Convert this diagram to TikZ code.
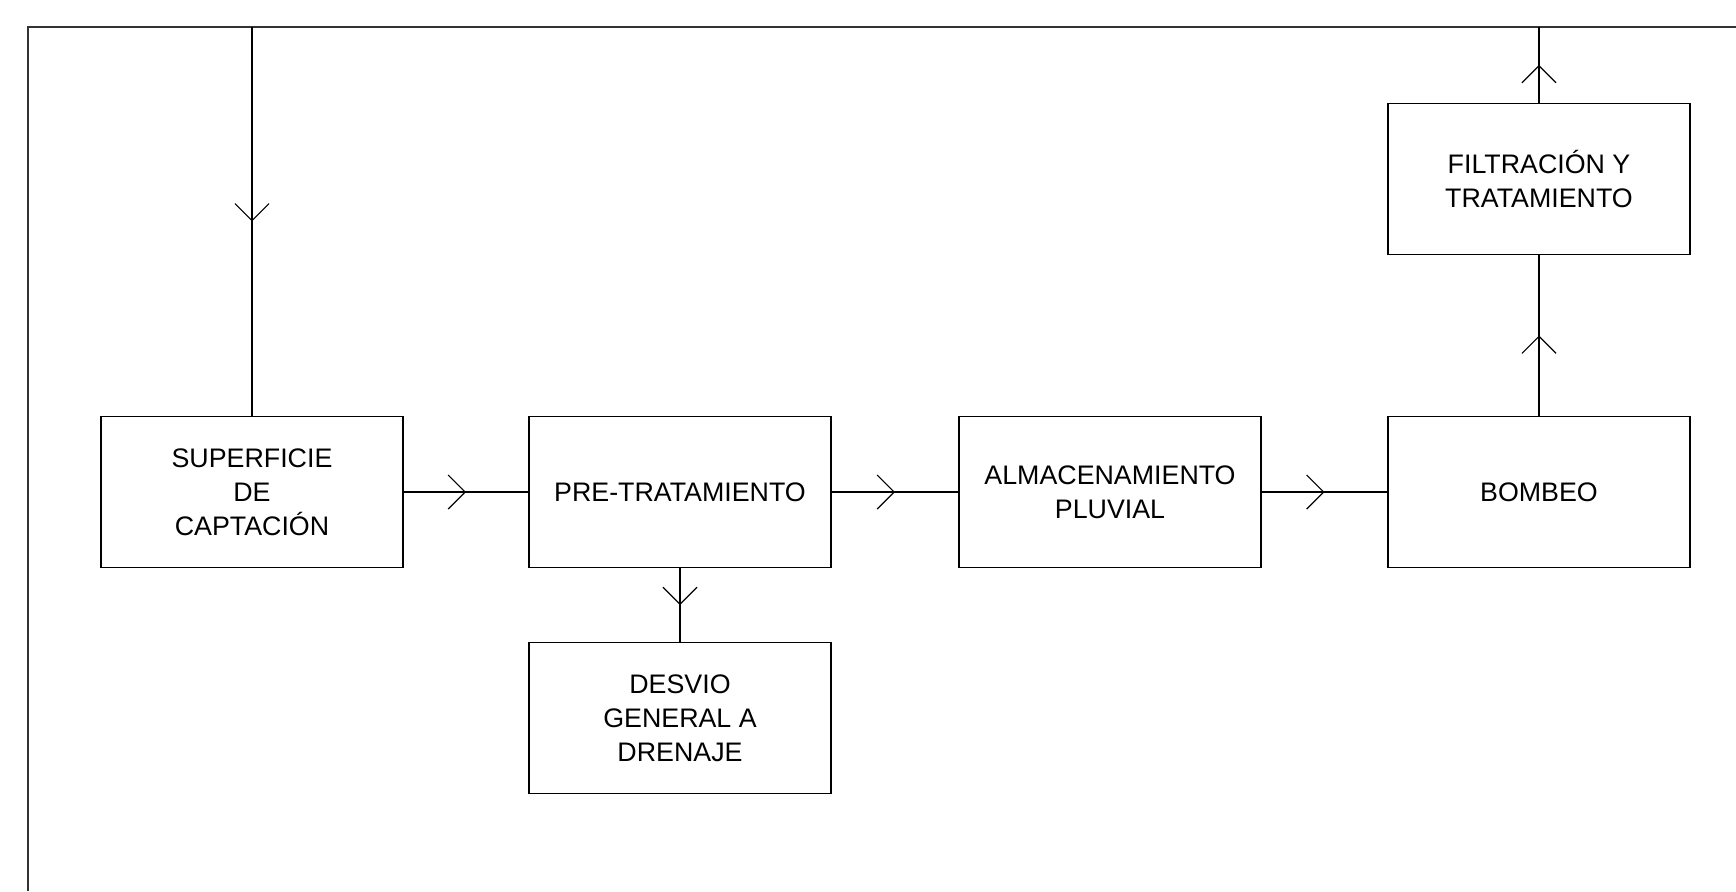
\documentclass[tikz,border=0pt]{standalone}
\usepackage{fontspec}
\setmainfont{Liberation Sans}
\usetikzlibrary{arrows.meta,decorations.markings}

\begin{document}
\begin{tikzpicture}[x=0.5pt, y=-0.5pt,
    box/.style={draw, rectangle, line width=0.6pt, minimum width=151pt,
        minimum height=75.5pt, inner sep=0pt, align=center,
        font=\fontsize{13.4pt}{16.9pt}\selectfont},
    flow/.style={line width=0.6pt, postaction={decorate},
        decoration={markings, mark=at position 0.5 with
            {\arrow{Straight Barb[length=8.5pt, width=17pt, line width=0.6pt]}}}}]
    \useasboundingbox (0,0) rectangle (1736,891);
    % Frame
    \draw[line width=0.6pt, black!80] (28,891) -- (28,27) -- (1736,27);
    % Nodes
    \coordinate (in) at (252,27);
    \coordinate (out) at (1539,27);
    \node[box] (sup) at (252,492) {SUPERFICIE\\DE\\CAPTACIÓN};
    \node[box] (pre) at (680,492) {PRE-TRATAMIENTO};
    \node[box] (alm) at (1110,492) {ALMACENAMIENTO\\PLUVIAL};
    \node[box] (bom) at (1539,492) {BOMBEO};
    \node[box] (fil) at (1539,179) {FILTRACIÓN Y\\TRATAMIENTO};
    \node[box] (des) at (680,718) {DESVIO\\GENERAL A\\DRENAJE};
    % Edges
    \draw[flow] (in) -- (sup);
    \draw[flow] (sup) -- (pre);
    \draw[flow] (pre) -- (alm);
    \draw[flow] (alm) -- (bom);
    \draw[flow] (pre) -- (des);
    \draw[flow] (bom) -- (fil);
    \draw[flow] (fil) -- (out);
\end{tikzpicture}
\end{document}
